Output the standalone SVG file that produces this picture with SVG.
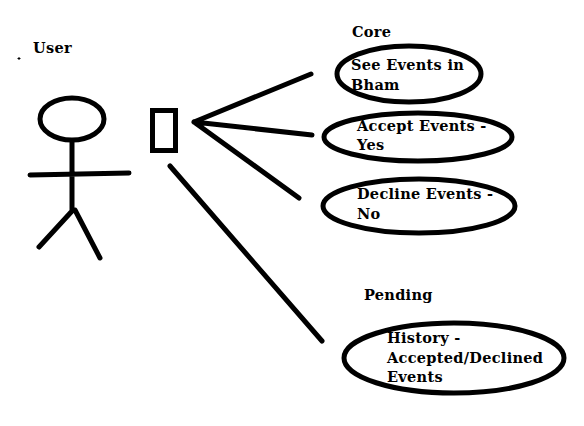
<svg xmlns="http://www.w3.org/2000/svg" width="584" height="426" viewBox="0 0 584 426">
<style>
.s{fill:none;stroke:#000;stroke-width:5;stroke-linecap:round}
.t{font-family:"DejaVu Serif","Liberation Serif",serif;font-weight:bold;font-size:14.5px;letter-spacing:.3px;fill:#000}
</style>
<rect width="584" height="426" fill="#fff"/>
<g id="actor">
<ellipse class="s" cx="72" cy="119" rx="32" ry="21"/>
<path class="s" d="M72 141V210M30 175L129 173M73 210L39 247M75 210L100 258"/>
<text class="t" x="33" y="53">User</text>
<path d="M17.500 58.500h3M19 57v3" stroke="#000" stroke-width="1" fill="none"/>
</g>
<g id="system"><rect x="152.500" y="110.500" width="23" height="40" fill="none" stroke="#000" stroke-width="5"/></g>
<g id="connectors">
<path class="s" d="M194 122L311 74M194 122L312 135M194 122L299 198M170 166L322 341"/>
</g>
<g id="core-label"><text class="t" x="352" y="37">Core</text></g>
<g id="see-events"><ellipse class="s" cx="409" cy="74" rx="72" ry="28"/><text class="t" x="351" y="70">See Events in</text><text class="t" x="351" y="90">Bham</text></g>
<g id="accept-events"><ellipse class="s" cx="418" cy="137" rx="94" ry="24"/><text class="t" x="357" y="131">Accept Events -</text><text class="t" x="357" y="150">Yes</text></g>
<g id="decline-events"><ellipse class="s" cx="419" cy="206" rx="96" ry="27"/><text class="t" x="357" y="199">Decline Events -</text><text class="t" x="357" y="219">No</text></g>
<g id="pending-label"><text class="t" x="364" y="300">Pending</text></g>
<g id="history"><ellipse class="s" cx="454" cy="358" rx="110" ry="35"/><text class="t" x="387" y="343">History -</text><text class="t" x="387" y="363">Accepted/Declined</text><text class="t" x="387" y="382">Events</text></g>
</svg>
